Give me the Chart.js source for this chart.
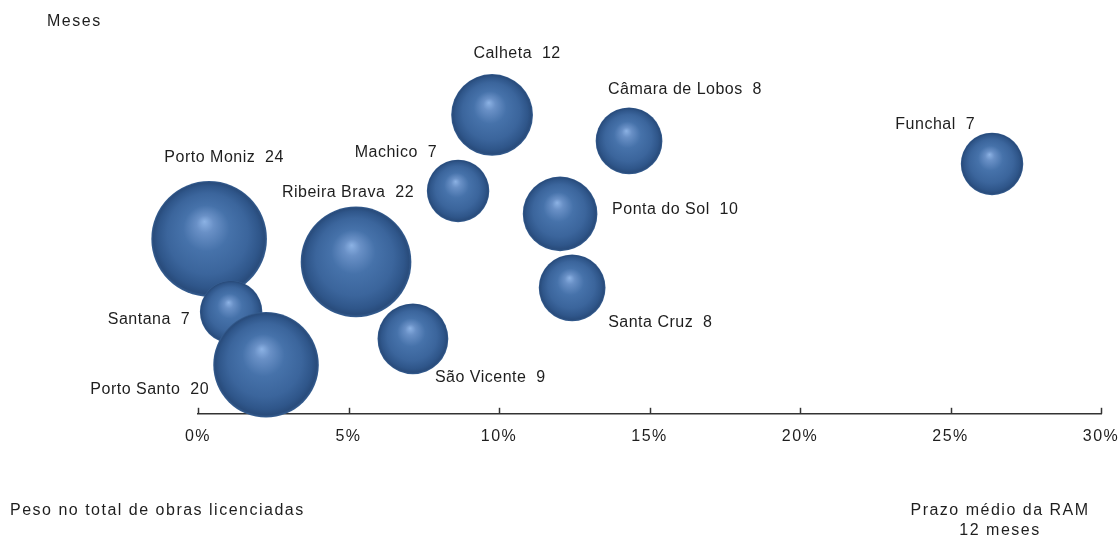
<!DOCTYPE html>
<html lang="pt">
<head>
<meta charset="utf-8">
<title>Prazo médio de licenciamento por concelho</title>
<script src="https://cdn.jsdelivr.net/npm/chart.js@4.4.1/dist/chart.umd.min.js"></script>
<style>
  html, body { margin: 0; padding: 0; background: #ffffff; }
  #wrap { width: 1120px; height: 538px; position: relative; }
</style>
</head>
<body>
<div id="wrap"><canvas id="chart" width="1120" height="538"></canvas></div>
<script>
(function () {
  'use strict';

  // concelhos, peso no total de obras licenciadas (%), posição vertical, prazo médio (meses)
  var concelhos = ['Porto Moniz', 'Santana', 'Porto Santo', 'Ribeira Brava', 'São Vicente', 'Machico',
    'Calheta', 'Ponta do Sol', 'Santa Cruz', 'Câmara de Lobos', 'Funchal'];
  var pesoObras = [0.37, 1.1, 2.26, 5.25, 7.14, 8.64, 9.77, 12.03, 12.43, 14.32, 26.38];
  var posicaoY = [43.75, 25.5, 12.25, 38, 18.75, 55.75, 74.75, 50, 31.5, 68.25, 62.5];
  var prazoMeses = [24, 7, 20, 22, 9, 7, 12, 10, 8, 8, 7];
  var xTicks = [0, 5, 10, 15, 20, 25, 30];

  // where each label sits relative to its bubble: [dx, dy, align]
  var labelPlace = [
    [15, -81, 'center'], [-41, 8, 'right'], [-57, 25, 'right'], [-8, -69, 'center'],
    [22, 39, 'left'], [-21, -38, 'right'], [25, -61, 'center'], [52, -4, 'left'],
    [36, 35, 'left'], [56, -51, 'center'], [-17, -39, 'right']
  ];

  var FONT = '"Liberation Sans", Arial, sans-serif';
  var TEXT = '#1e1e1e';

  function raio(meses) {
    return 11.8 * Math.sqrt(meses);
  }

  function bubbleFill(context) {
    if (context.type !== 'data' || !context.raw) return '#3b6196';
    var chart = context.chart;
    var cx = chart.scales.x.getPixelForValue(context.raw.x);
    var cy = chart.scales.y.getPixelForValue(context.raw.y);
    var r = context.raw.r;
    if (!isFinite(cx) || !isFinite(cy)) return '#3b6196';
    var g = chart.ctx.createRadialGradient(cx - r * 0.08, cy - r * 0.3, 0, cx, cy, r);
    g.addColorStop(0, '#8cb2e4');
    g.addColorStop(0.15, '#6990c6');
    g.addColorStop(0.4, '#4672aa');
    g.addColorStop(0.7, '#3b659c');
    g.addColorStop(0.88, '#2f568a');
    g.addColorStop(0.96, '#294c7c');
    g.addColorStop(1, '#365e91');
    return g;
  }

  var points = concelhos.map(function (nome, i) {
    return { x: pesoObras[i], y: posicaoY[i], r: raio(prazoMeses[i]) };
  });

  var textsPlugin = {
    id: 'textos',
    beforeDraw: function (chart) {
      chart.ctx.letterSpacing = '1.5px';
    },
    beforeDatasetsDraw: function (chart) {
      var ctx = chart.ctx;
      var xs = chart.scales.x;
      var bottom = chart.chartArea.bottom;
      ctx.save();
      ctx.strokeStyle = '#333333';
      ctx.lineWidth = 1.5;
      xTicks.forEach(function (t) {
        var px = Math.round(xs.getPixelForValue(t)) + 0.5;
        ctx.beginPath();
        ctx.moveTo(px, bottom - 6);
        ctx.lineTo(px, bottom);
        ctx.stroke();
      });
      ctx.restore();
      ctx.letterSpacing = '0px';
    },
    afterDatasetsDraw: function (chart) {
      var ctx = chart.ctx;
      var meta = chart.getDatasetMeta(0);
      ctx.save();
      ctx.fillStyle = TEXT;
      ctx.font = '16px ' + FONT;
      ctx.textBaseline = 'middle';
      ctx.letterSpacing = '0.5px';
      meta.data.forEach(function (el, i) {
        var p = labelPlace[i];
        ctx.textAlign = p[2];
        ctx.fillText(concelhos[i] + '  ' + prazoMeses[i], el.x + p[0], el.y + p[1]);
      });
      ctx.letterSpacing = '1.5px';
      ctx.textAlign = 'left';
      ctx.fillText('Meses', 47, 22);
      ctx.fillText('Peso no total de obras licenciadas', 10, 511);
      ctx.textAlign = 'center';
      ctx.fillText('Prazo médio da RAM', 1000, 511);
      ctx.fillText('12 meses', 1000, 531);
      ctx.restore();
    }
  };

  var ctx = document.getElementById('chart').getContext('2d');
  new Chart(ctx, {
    type: 'bubble',
    plugins: [textsPlugin],
    data: {
      datasets: [{
        label: 'Prazo médio (meses)',
        data: points,
        backgroundColor: bubbleFill,
        borderWidth: 0,
        hoverBorderWidth: 0,
        clip: false
      }]
    },
    options: {
      responsive: false,
      animation: false,
      events: [],
      layout: { autoPadding: false, padding: { left: 198, right: 19, top: 14, bottom: 79 } },
      plugins: {
        legend: { display: false },
        tooltip: { enabled: false }
      },
      scales: {
        x: {
          type: 'linear',
          min: 0,
          max: 30,
          afterBuildTicks: function (scale) {
            scale.ticks = xTicks.map(function (v) { return { value: v }; });
          },
          afterFit: function (scale) {
            // layout padding already leaves room for the end labels
            scale.paddingLeft = 0;
            scale.paddingRight = 0;
          },
          grid: { display: true, drawOnChartArea: false, drawTicks: false },
          border: { display: true, color: '#333333', width: 1.5 },
          ticks: {
            padding: 13,
            color: TEXT,
            maxRotation: 0,
            autoSkip: false,
            font: { family: FONT, size: 16 },
            callback: function (v) { return v + '%'; }
          }
        },
        y: {
          type: 'linear',
          min: 0,
          max: 100,
          display: false
        }
      }
    }
  });
})();
</script>
</body>
</html>
